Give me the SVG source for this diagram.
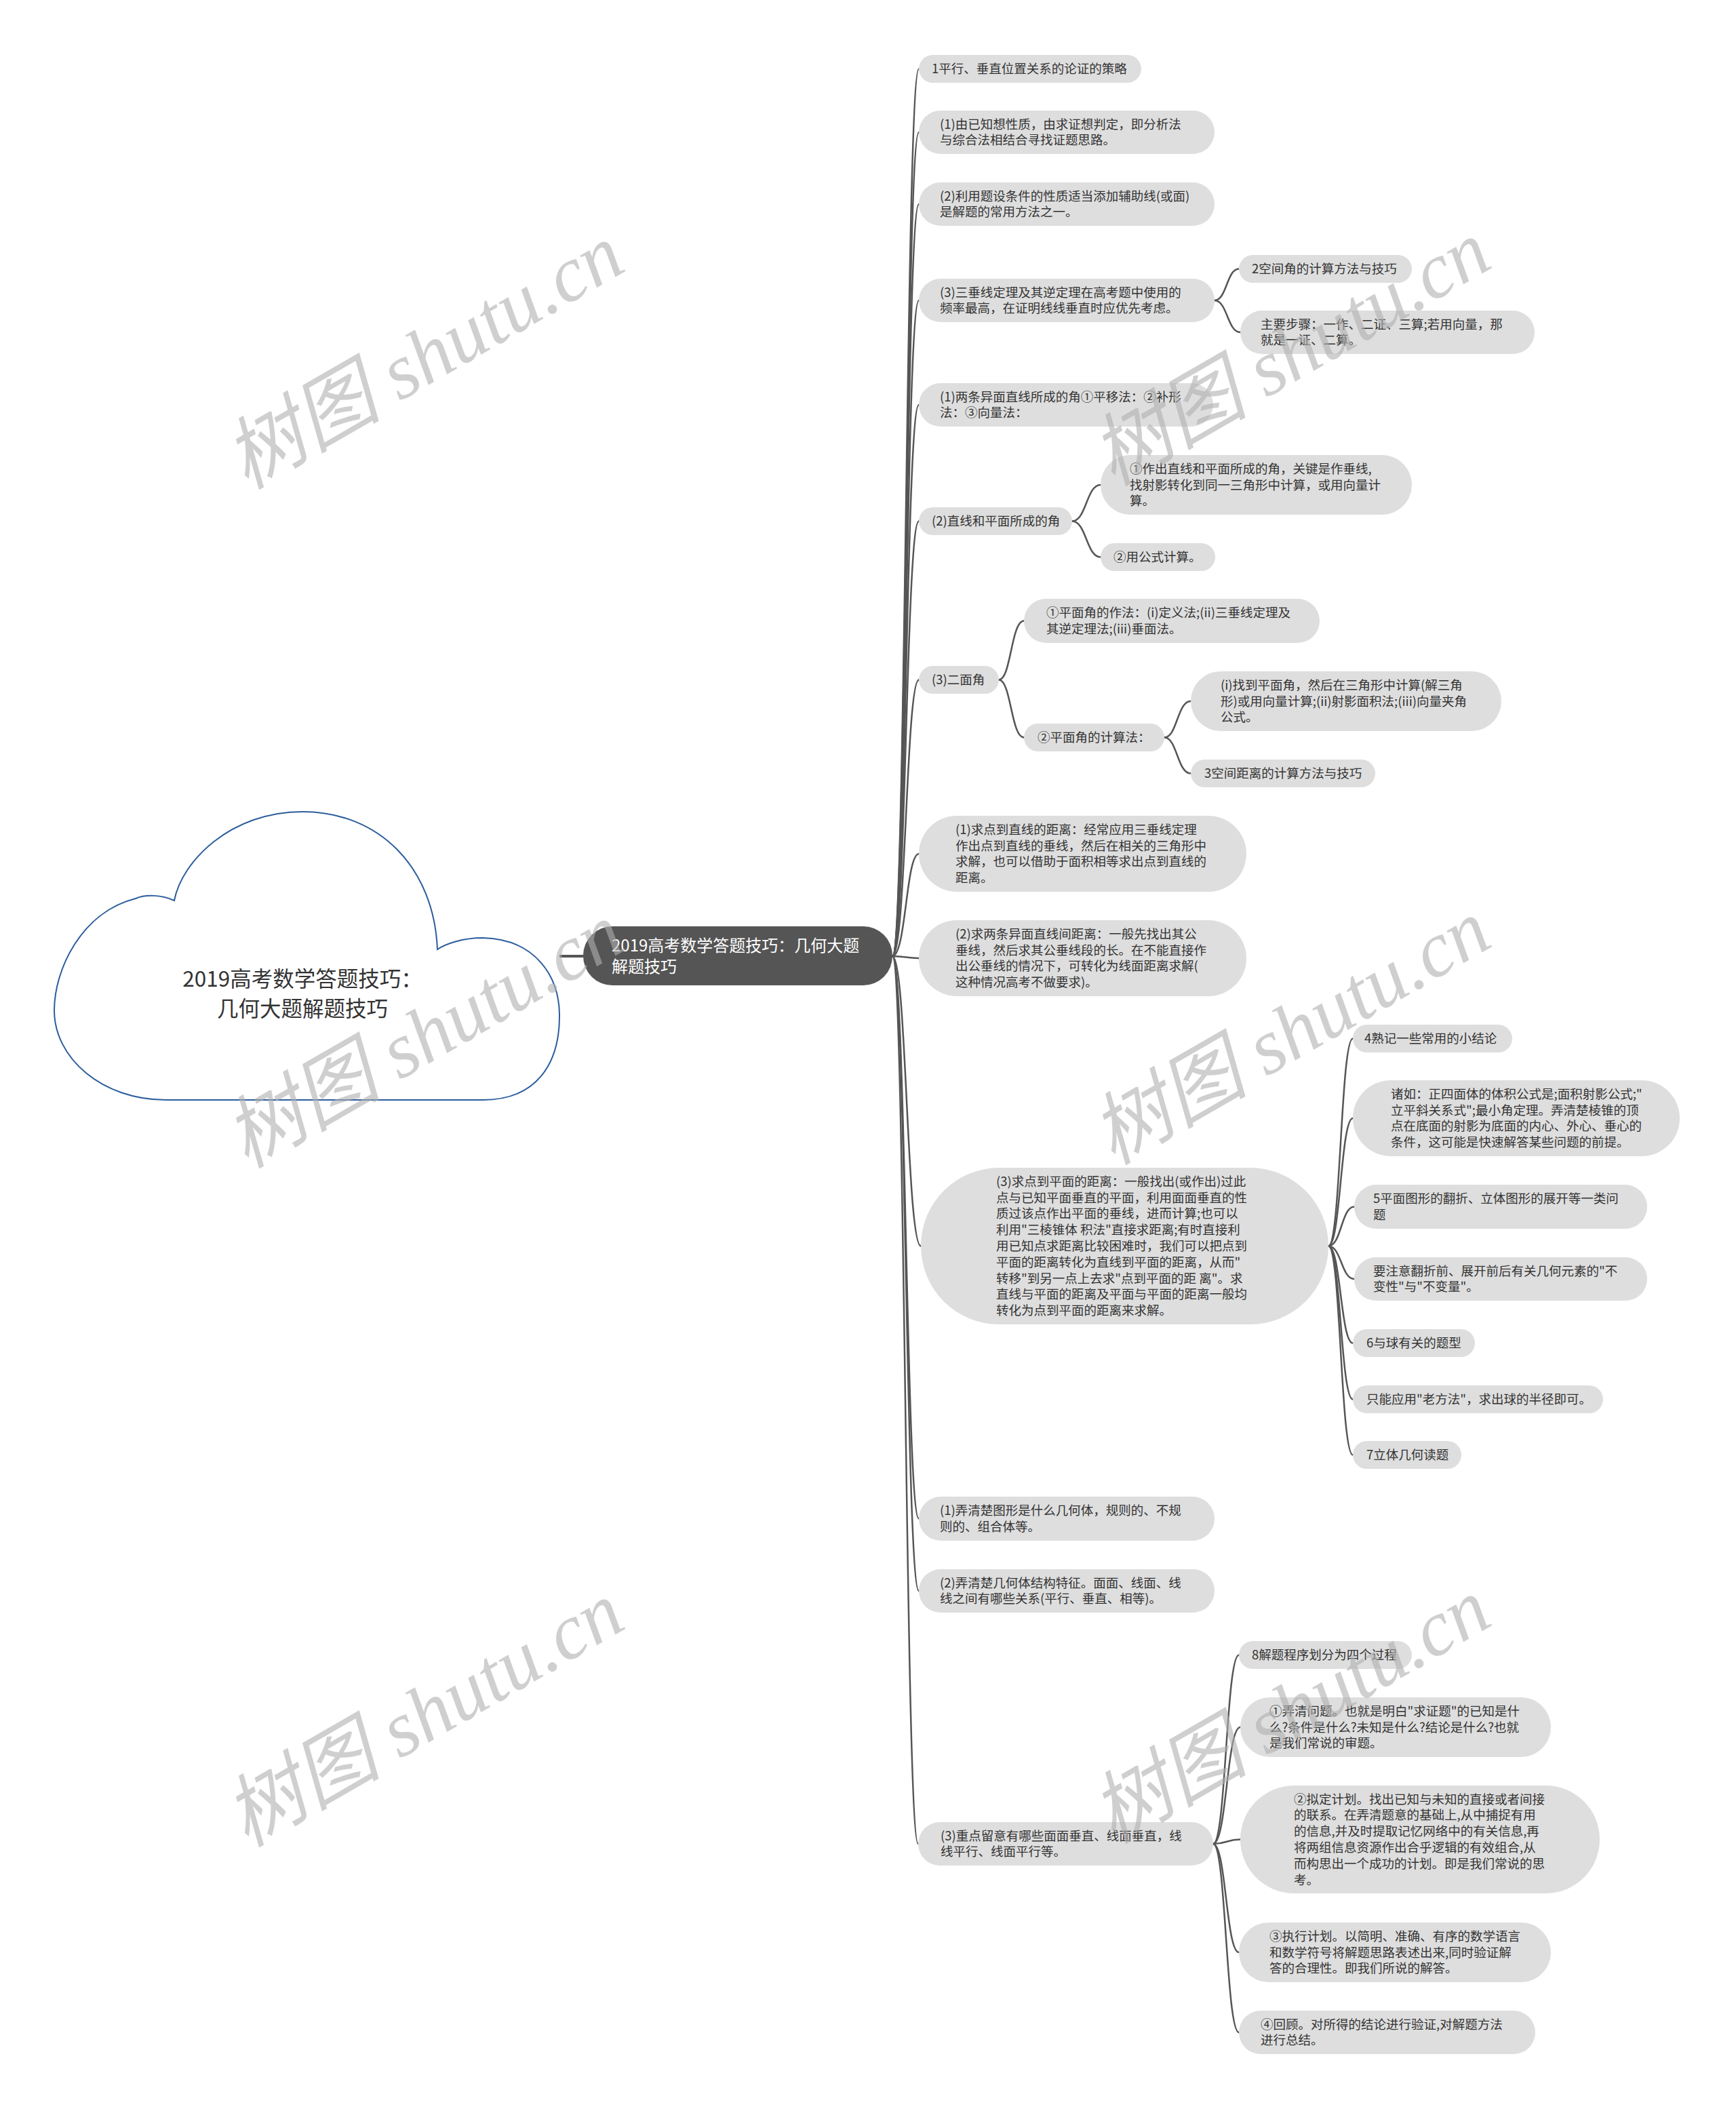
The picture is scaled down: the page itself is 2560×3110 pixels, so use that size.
<svg xmlns="http://www.w3.org/2000/svg" width="2560" height="3110" viewBox="0 0 2560 3110">
<style>
.bg{fill:#ffffff}
.n{fill:#dedede}
.t{font-family:"Noto Sans CJK SC","Liberation Sans",sans-serif;font-size:18.5px;fill:#333333}
.c{fill:none;stroke:#555555;stroke-width:2.5;stroke-linecap:round}
.wm{font-family:"Liberation Serif","Noto Sans CJK SC",serif;font-style:italic;font-size:116px;fill:#b0b0b0;opacity:0.6}
</style>
<rect class="bg" x="0" y="0" width="2560" height="3110"/>
<g id="connectors">
<line x1="825" y1="1410" x2="860" y2="1410" stroke="#555555" stroke-width="4"/>
<path class="c" d="M1316 1410 C1336 1410 1336 101.5 1355 101.5"/>
<path class="c" d="M1316 1410 C1336 1410 1336 195 1355 195"/>
<path class="c" d="M1316 1410 C1336 1410 1336 301 1355 301"/>
<path class="c" d="M1316 1410 C1336 1410 1336 443 1355 443"/>
<path class="c" d="M1316 1410 C1336 1410 1336 597 1355 597"/>
<path class="c" d="M1316 1410 C1336 1410 1336 768.5 1355 768.5"/>
<path class="c" d="M1316 1410 C1336 1410 1336 1002.5 1355 1002.5"/>
<path class="c" d="M1316 1410 C1336 1410 1336 1259 1355 1259"/>
<path class="c" d="M1316 1410 C1336 1410 1336 1413 1355 1413"/>
<path class="c" d="M1316 1410 C1337 1410 1337 1837.5 1358 1837.5"/>
<path class="c" d="M1316 1410 C1336 1410 1336 2239.5 1355 2239.5"/>
<path class="c" d="M1316 1410 C1336 1410 1336 2346 1355 2346"/>
<path class="c" d="M1316 1410 C1335 1410 1335 2719 1354 2719"/>
<path class="c" d="M1791 443 C1809 443 1809 396.5 1827 396.5"/>
<path class="c" d="M1791 443 C1810 443 1810 490 1829 490"/>
<path class="c" d="M1581 768.5 C1602 768.5 1602 715 1623 715"/>
<path class="c" d="M1581 768.5 C1602 768.5 1602 821.5 1623 821.5"/>
<path class="c" d="M1473 1002.5 C1491 1002.5 1491 915.5 1510 915.5"/>
<path class="c" d="M1473 1002.5 C1491 1002.5 1491 1087.5 1510 1087.5"/>
<path class="c" d="M1717 1087.5 C1736 1087.5 1736 1034 1756 1034"/>
<path class="c" d="M1717 1087.5 C1736 1087.5 1736 1140.5 1756 1140.5"/>
<path class="c" d="M1959 1837.5 C1977 1837.5 1977 1531.5 1995 1531.5"/>
<path class="c" d="M1959 1837.5 C1977 1837.5 1977 1649 1995 1649"/>
<path class="c" d="M1959 1837.5 C1978 1837.5 1978 1779.5 1997 1779.5"/>
<path class="c" d="M1959 1837.5 C1978 1837.5 1978 1886 1997 1886"/>
<path class="c" d="M1959 1837.5 C1977 1837.5 1977 1980.5 1995 1980.5"/>
<path class="c" d="M1959 1837.5 C1977 1837.5 1977 2063.5 1995 2063.5"/>
<path class="c" d="M1959 1837.5 C1977 1837.5 1977 2145.5 1995 2145.5"/>
<path class="c" d="M1789 2719 C1808 2719 1808 2440.5 1827 2440.5"/>
<path class="c" d="M1789 2719 C1809 2719 1809 2547 1829 2547"/>
<path class="c" d="M1789 2719 C1809 2719 1809 2712.5 1829 2712.5"/>
<path class="c" d="M1789 2719 C1808 2719 1808 2879 1827 2879"/>
<path class="c" d="M1789 2719 C1808 2719 1808 2997 1827 2997"/>
</g>
<g id="root">
<path d="M245 1622 L712 1622 C790 1622 826 1570 825 1495 C824 1440 790 1385 712 1383 C682 1383 657 1392 645 1400 C640 1280 560 1197 446 1197 C340 1197 268 1270 257 1328 C240 1320 215 1318 200 1325 C120 1345 80 1430 80 1490 C80 1560 150 1622 245 1622 Z" fill="#ffffff" stroke="#2b5d9c" stroke-width="2"/>
<text x="446" y="1455" text-anchor="middle" style="font-family:'Noto Sans CJK SC','Liberation Sans',sans-serif;font-size:31.5px;fill:#333333">2019高考数学答题技巧：</text>
<text x="446" y="1499" text-anchor="middle" style="font-family:'Noto Sans CJK SC','Liberation Sans',sans-serif;font-size:31.5px;fill:#333333">几何大题解题技巧</text>
</g>
<g id="main">
<rect x="860" y="1366" width="456" height="87" rx="43" fill="#555555"/>
<text style="font-family:'Noto Sans CJK SC','Liberation Sans',sans-serif;font-size:24px;fill:#ffffff" x="902" y="1403"><tspan x="902">2019高考数学答题技巧：几何大题</tspan><tspan x="902" dy="31">解题技巧</tspan></text>
</g>
<g id="nA"><rect class="n" x="1355" y="81" width="328" height="41" rx="20.5"/><text class="t" x="1374" y="108">1平行、垂直位置关系的论证的策略</text></g>
<g id="nB"><rect class="n" x="1355" y="163" width="436" height="64" rx="32"/><text class="t" y="189.6"><tspan x="1386">(1)由已知想性质，由求证想判定，即分析法</tspan><tspan x="1386" dy="23.8">与综合法相结合寻找证题思路。</tspan></text></g>
<g id="nC"><rect class="n" x="1355" y="269" width="436" height="64" rx="32"/><text class="t" y="295.6"><tspan x="1386">(2)利用题设条件的性质适当添加辅助线(或面)</tspan><tspan x="1386" dy="23.8">是解题的常用方法之一。</tspan></text></g>
<g id="nD"><rect class="n" x="1355" y="411" width="436" height="64" rx="32"/><text class="t" y="437.6"><tspan x="1386">(3)三垂线定理及其逆定理在高考题中使用的</tspan><tspan x="1386" dy="23.8">频率最高，在证明线线垂直时应优先考虑。</tspan></text></g>
<g id="nD1"><rect class="n" x="1827" y="376" width="255" height="41" rx="20.5"/><text class="t" x="1846" y="403">2空间角的计算方法与技巧</text></g>
<g id="nD2"><rect class="n" x="1829" y="458" width="434" height="64" rx="32"/><text class="t" y="484.6"><tspan x="1859">主要步骤：一作、二证、三算;若用向量，那</tspan><tspan x="1859" dy="23.8">就是一证、二算。</tspan></text></g>
<g id="nE"><rect class="n" x="1355" y="565" width="434" height="64" rx="32"/><text class="t" y="591.6"><tspan x="1386">(1)两条异面直线所成的角①平移法：②补形</tspan><tspan x="1386" dy="23.8">法：③向量法：</tspan></text></g>
<g id="nF"><rect class="n" x="1355" y="748" width="226" height="41" rx="20.5"/><text class="t" x="1374" y="775">(2)直线和平面所成的角</text></g>
<g id="nF1"><rect class="n" x="1623" y="671" width="459" height="88" rx="44"/><text class="t" y="697.7"><tspan x="1666">①作出直线和平面所成的角，关键是作垂线,</tspan><tspan x="1666" dy="23.8">找射影转化到同一三角形中计算，或用向量计</tspan><tspan x="1666" dy="23.8">算。</tspan></text></g>
<g id="nF2"><rect class="n" x="1623" y="801" width="169" height="41" rx="20.5"/><text class="t" x="1642" y="828">②用公式计算。</text></g>
<g id="nG"><rect class="n" x="1355" y="982" width="118" height="41" rx="20.5"/><text class="t" x="1374" y="1009">(3)二面角</text></g>
<g id="nG1"><rect class="n" x="1510" y="883" width="436" height="65" rx="32.5"/><text class="t" y="910.1"><tspan x="1543">①平面角的作法：(i)定义法;(ii)三垂线定理及</tspan><tspan x="1543" dy="23.8">其逆定理法;(iii)垂面法。</tspan></text></g>
<g id="nG2"><rect class="n" x="1510" y="1067" width="207" height="41" rx="20.5"/><text class="t" x="1530" y="1094">②平面角的计算法：</text></g>
<g id="nG2a"><rect class="n" x="1756" y="990" width="458" height="88" rx="44"/><text class="t" y="1016.7"><tspan x="1800">(i)找到平面角，然后在三角形中计算(解三角</tspan><tspan x="1800" dy="23.8">形)或用向量计算;(ii)射影面积法;(iii)向量夹角</tspan><tspan x="1800" dy="23.8">公式。</tspan></text></g>
<g id="nG2b"><rect class="n" x="1756" y="1120" width="272" height="41" rx="20.5"/><text class="t" x="1776" y="1147">3空间距离的计算方法与技巧</text></g>
<g id="nH"><rect class="n" x="1355" y="1203" width="483" height="112" rx="56"/><text class="t" y="1229.8"><tspan x="1409">(1)求点到直线的距离：经常应用三垂线定理</tspan><tspan x="1409" dy="23.8">作出点到直线的垂线，然后在相关的三角形中</tspan><tspan x="1409" dy="23.8">求解，也可以借助于面积相等求出点到直线的</tspan><tspan x="1409" dy="23.8">距离。</tspan></text></g>
<g id="nI"><rect class="n" x="1355" y="1357" width="483" height="112" rx="56"/><text class="t" y="1383.8"><tspan x="1409">(2)求两条异面直线间距离：一般先找出其公</tspan><tspan x="1409" dy="23.8">垂线，然后求其公垂线段的长。在不能直接作</tspan><tspan x="1409" dy="23.8">出公垂线的情况下，可转化为线面距离求解(</tspan><tspan x="1409" dy="23.8">这种情况高考不做要求)。</tspan></text></g>
<g id="nL"><rect class="n" x="1358" y="1722" width="601" height="231" rx="115.5"/><text class="t" y="1748.8"><tspan x="1469">(3)求点到平面的距离：一般找出(或作出)过此</tspan><tspan x="1469" dy="23.8">点与已知平面垂直的平面，利用面面垂直的性</tspan><tspan x="1469" dy="23.8">质过该点作出平面的垂线，进而计算;也可以</tspan><tspan x="1469" dy="23.8">利用"三棱锥体 积法"直接求距离;有时直接利</tspan><tspan x="1469" dy="23.8">用已知点求距离比较困难时，我们可以把点到</tspan><tspan x="1469" dy="23.8">平面的距离转化为直线到平面的距离，从而"</tspan><tspan x="1469" dy="23.8">转移"到另一点上去求"点到平面的距 离"。求</tspan><tspan x="1469" dy="23.8">直线与平面的距离及平面与平面的距离一般均</tspan><tspan x="1469" dy="23.8">转化为点到平面的距离来求解。</tspan></text></g>
<g id="nJ"><rect class="n" x="1995" y="1511" width="235" height="41" rx="20.5"/><text class="t" x="2012" y="1538">4熟记一些常用的小结论</text></g>
<g id="nK"><rect class="n" x="1995" y="1593" width="482" height="112" rx="56"/><text class="t" y="1619.8"><tspan x="2051">诸如：正四面体的体积公式是;面积射影公式;"</tspan><tspan x="2051" dy="23.8">立平斜关系式";最小角定理。弄清楚棱锥的顶</tspan><tspan x="2051" dy="23.8">点在底面的射影为底面的内心、外心、垂心的</tspan><tspan x="2051" dy="23.8">条件，这可能是快速解答某些问题的前提。</tspan></text></g>
<g id="nM"><rect class="n" x="1997" y="1747" width="432" height="65" rx="32.5"/><text class="t" y="1774.1"><tspan x="2025">5平面图形的翻折、立体图形的展开等一类问</tspan><tspan x="2025" dy="23.8">题</tspan></text></g>
<g id="nN"><rect class="n" x="1997" y="1854" width="432" height="64" rx="32"/><text class="t" y="1880.6"><tspan x="2025">要注意翻折前、展开前后有关几何元素的"不</tspan><tspan x="2025" dy="23.8">变性"与"不变量"。</tspan></text></g>
<g id="nO"><rect class="n" x="1995" y="1960" width="180" height="41" rx="20.5"/><text class="t" x="2015" y="1987">6与球有关的题型</text></g>
<g id="nP"><rect class="n" x="1995" y="2043" width="369" height="41" rx="20.5"/><text class="t" x="2015" y="2070">只能应用"老方法"，求出球的半径即可。</text></g>
<g id="nQ"><rect class="n" x="1995" y="2125" width="160" height="41" rx="20.5"/><text class="t" x="2015" y="2152">7立体几何读题</text></g>
<g id="nR"><rect class="n" x="1355" y="2207" width="436" height="65" rx="32.5"/><text class="t" y="2234.1"><tspan x="1386">(1)弄清楚图形是什么几何体，规则的、不规</tspan><tspan x="1386" dy="23.8">则的、组合体等。</tspan></text></g>
<g id="nS"><rect class="n" x="1355" y="2314" width="436" height="64" rx="32"/><text class="t" y="2340.6"><tspan x="1386">(2)弄清楚几何体结构特征。面面、线面、线</tspan><tspan x="1386" dy="23.8">线之间有哪些关系(平行、垂直、相等)。</tspan></text></g>
<g id="nW"><rect class="n" x="1354" y="2687" width="435" height="64" rx="32"/><text class="t" y="2713.6"><tspan x="1387">(3)重点留意有哪些面面垂直、线面垂直，线</tspan><tspan x="1387" dy="23.8">线平行、线面平行等。</tspan></text></g>
<g id="nT"><rect class="n" x="1827" y="2420" width="255" height="41" rx="20.5"/><text class="t" x="1846" y="2447">8解题程序划分为四个过程</text></g>
<g id="nU"><rect class="n" x="1829" y="2503" width="458" height="88" rx="44"/><text class="t" y="2529.7"><tspan x="1872">①弄清问题。也就是明白"求证题"的已知是什</tspan><tspan x="1872" dy="23.8">么?条件是什么?未知是什么?结论是什么?也就</tspan><tspan x="1872" dy="23.8">是我们常说的审题。</tspan></text></g>
<g id="nV"><rect class="n" x="1829" y="2633" width="530" height="159" rx="79.5"/><text class="t" y="2659.5"><tspan x="1908">②拟定计划。找出已知与未知的直接或者间接</tspan><tspan x="1908" dy="23.8">的联系。在弄清题意的基础上,从中捕捉有用</tspan><tspan x="1908" dy="23.8">的信息,并及时提取记忆网络中的有关信息,再</tspan><tspan x="1908" dy="23.8">将两组信息资源作出合乎逻辑的有效组合,从</tspan><tspan x="1908" dy="23.8">而构思出一个成功的计划。即是我们常说的思</tspan><tspan x="1908" dy="23.8">考。</tspan></text></g>
<g id="nX"><rect class="n" x="1827" y="2835" width="460" height="88" rx="44"/><text class="t" y="2861.7"><tspan x="1872">③执行计划。以简明、准确、有序的数学语言</tspan><tspan x="1872" dy="23.8">和数学符号将解题思路表述出来,同时验证解</tspan><tspan x="1872" dy="23.8">答的合理性。即我们所说的解答。</tspan></text></g>
<g id="nY"><rect class="n" x="1827" y="2965" width="437" height="64" rx="32"/><text class="t" y="2991.6"><tspan x="1859">④回顾。对所得的结论进行验证,对解题方法</tspan><tspan x="1859" dy="23.8">进行总结。</tspan></text></g>
<g id="watermarks">
<text class="wm" text-anchor="middle" transform="translate(645 560) rotate(-30)">树图 shutu.cn</text>
<text class="wm" text-anchor="middle" transform="translate(1923 555) rotate(-30)">树图 shutu.cn</text>
<text class="wm" text-anchor="middle" transform="translate(645 1561) rotate(-30)">树图 shutu.cn</text>
<text class="wm" text-anchor="middle" transform="translate(1923 1556) rotate(-30)">树图 shutu.cn</text>
<text class="wm" text-anchor="middle" transform="translate(645 2562) rotate(-30)">树图 shutu.cn</text>
<text class="wm" text-anchor="middle" transform="translate(1923 2557) rotate(-30)">树图 shutu.cn</text>
</g>
</svg>
